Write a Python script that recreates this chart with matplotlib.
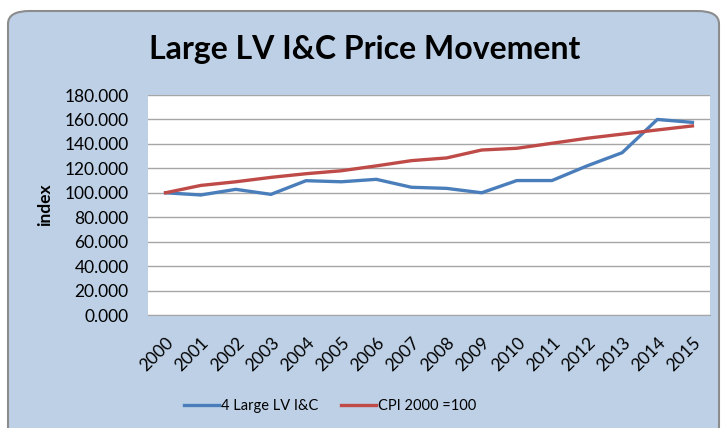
import numpy as np
import matplotlib.pyplot as plt
from matplotlib.patches import FancyBboxPatch
plt.close("all")

plt.rcParams['font.family'] = ['Lato', 'DejaVu Sans']

years = ['2000', '2001', '2002', '2003', '2004', '2005', '2006', '2007',
         '2008', '2009', '2010', '2011', '2012', '2013', '2014', '2015']
large_lv = [100.0, 98.2, 102.8, 98.7, 109.9, 109.0, 111.0, 104.5,
            103.6, 100.0, 110.0, 110.0, 122.0, 132.8, 160.0, 157.6]
cpi = [100.0, 106.0, 109.0, 112.6, 115.6, 118.0, 122.0, 126.3,
       128.5, 135.0, 136.4, 140.5, 144.6, 148.0, 151.4, 154.7]

bg = '#bdd0e6'

fig = plt.figure(figsize=(7.22, 4.28), dpi=100)
fig.patch.set_facecolor('white')

# rounded chart frame
frame = FancyBboxPatch((8 / 722, -20 / 428), 711 / 722, 437 / 428,
                       boxstyle='round,pad=0,rounding_size=0.03',
                       transform=fig.transFigure, facecolor=bg,
                       edgecolor='#8c8c8c', linewidth=1.5, zorder=-1)
fig.patches.append(frame)

ax = fig.add_axes([148 / 722, 113 / 428, 562 / 722, 220 / 428])
ax.set_zorder(2)
ax.set_facecolor('white')

x = np.arange(len(years))
ax.plot(x, large_lv, color='#4a7ebb', linewidth=2.4, label='4 Large LV I&C')
ax.plot(x, cpi, color='#be4b48', linewidth=2.4, label='CPI 2000 =100')

ax.set_xlim(-0.5, len(years) - 0.5)
ax.set_ylim(0, 180)
ax.set_yticks(np.arange(0, 181, 20))
ax.set_yticklabels(['%.3f' % v for v in np.arange(0, 181, 20)], fontsize=12.5)
ax.set_xticks(x)
ax.set_xticklabels(years, rotation=45, ha='right', rotation_mode='anchor', fontsize=12.5)
ax.tick_params(axis='y', length=0, pad=14)
ax.tick_params(axis='x', length=0, pad=14)
ax.grid(axis='y', color='#a6a6a6', linewidth=1)
ax.set_axisbelow(True)
for s in ['left', 'right', 'top']:
    ax.spines[s].set_visible(False)
ax.spines['bottom'].set_color('#a6a6a6')
ax.set_ylabel('index', fontsize=12.5, fontweight='bold', labelpad=8)

fig.text(365 / 722, 1 - 50 / 428, 'Large LV I&C Price Movement', ha='center', va='center',
         fontsize=23, fontweight='bold', zorder=3)

leg = fig.legend(loc='center', bbox_to_anchor=(330 / 722, 1 - 406 / 428), ncol=2, frameon=False,
                 fontsize=10.5, handlelength=2.4, columnspacing=1.6, handletextpad=0.1)
leg.set_zorder(3)

fig.savefig('out.png', dpi=100, facecolor='white')
